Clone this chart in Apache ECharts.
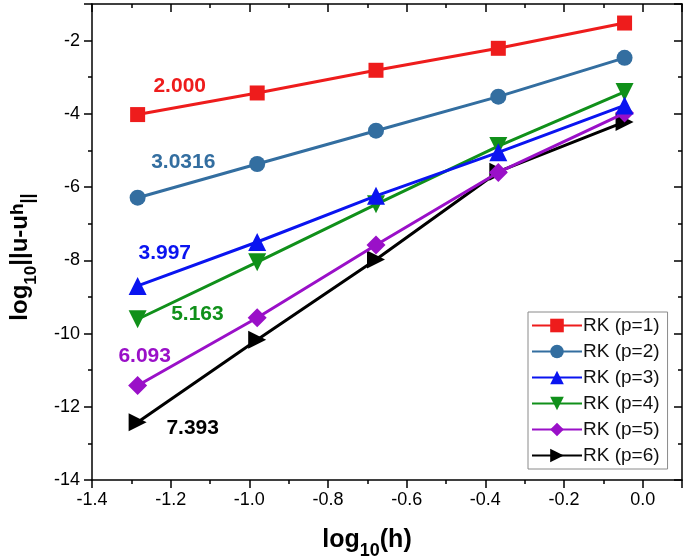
<!DOCTYPE html>
<html>
<head>
<meta charset="utf-8">
<script src="https://cdn.jsdelivr.net/npm/echarts@6/dist/echarts.min.js"></script>
<style>
html,body{margin:0;padding:0;background:#fff;}
#c{width:685px;height:559px;}
</style>
</head>
<body>
<div id="c"></div>
<script>
// ---- data ----
var logH = [-1.284, -0.980, -0.678, -0.367, -0.046];
var rk1 = [-4.02, -3.43, -2.81, -2.21, -1.52];
var rk2 = [-6.29, -5.37, -4.46, -3.53, -2.47];
var rk3 = [-8.70, -7.50, -6.24, -5.05, -3.77];
var rk4 = [-9.61, -8.05, -6.47, -4.88, -3.40];
var rk5 = [-11.42, -9.57, -7.58, -5.60, -3.98];
var rk6 = [-12.42, -10.17, -7.98, -5.58, -4.22];
var seriesNames = ['RK (p=1)', 'RK (p=2)', 'RK (p=3)', 'RK (p=4)', 'RK (p=5)', 'RK (p=6)'];
var slopeLabels = ['2.000', '3.0316', '3.997', '5.163', '6.093', '7.393'];
var labelX = [-1.177, -1.168, -1.215, -1.132, -1.266, -1.144];
var labelY = [-3.25, -5.33, -7.81, -9.47, -10.62, -12.58];
var xTicks = { min: -1.4, max: 0.1, interval: 0.2 };
var yTicks = { min: -14, max: -1, interval: 2 };

// ---- styles ----
var colors = ['#ee1c1c', '#336ea0', '#0a14f0', '#10901a', '#9a10c8', '#000000'];
var symbols = ['rect', 'circle', 'triangle', 'triangle', 'diamond', 'triangle'];
var rotations = [0, 0, 0, 180, 0, -90];
var sizes = [15, 16, 18, 18, 19, 18];
var allData = [rk1, rk2, rk3, rk4, rk5, rk6];

var chart = echarts.init(document.getElementById('c'));
var FONT = 'Liberation Sans, Arial, sans-serif';

var series = allData.map(function (vals, i) {
  return {
    name: seriesNames[i],
    type: 'line',
    data: vals.map(function (v, j) { return [logH[j], v]; }),
    symbol: symbols[i],
    symbolRotate: rotations[i],
    symbolSize: sizes[i],
    z: 10 - i,
    lineStyle: { color: colors[i], width: 3 },
    itemStyle: { color: colors[i] },
    emphasis: { disabled: true },
    markPoint: {
      symbol: 'circle',
      symbolSize: 0,
      silent: true,
      label: {
        show: true,
        position: 'inside',
        formatter: slopeLabels[i],
        color: colors[i],
        fontSize: 21,
        fontWeight: 'bold',
        fontFamily: FONT
      },
      data: [{ coord: [labelX[i], labelY[i]] }]
    }
  };
});

var option = {
  animation: false,
  backgroundColor: '#fff',
  textStyle: { fontFamily: FONT },
  grid: { left: 92, right: 3, top: 4, bottom: 79, containLabel: false, outerBoundsMode: 'none' },
  legend: {
    orient: 'vertical',
    left: 528,
    top: 312,
    data: seriesNames,
    itemWidth: 50,
    itemHeight: 17,
    itemGap: 7,
    padding: [4, 8, 4, 3],
    borderColor: '#8a8a8a',
    borderWidth: 1,
    borderRadius: 0,
    backgroundColor: '#fff',
    textStyle: { fontSize: 19, color: '#111', fontFamily: FONT, padding: [0, 0, 0, -4] }
  },
  xAxis: [{
    type: 'value',
    min: xTicks.min, max: xTicks.max, interval: xTicks.interval,
    name: '{a|log}{s|10}{a|(h)}',
    nameLocation: 'middle',
    nameGap: 48,
    nameTextStyle: {
      padding: [0, 40, 0, 0],
      rich: {
        a: { fontSize: 25, fontWeight: 'bold', color: '#000', fontFamily: FONT, lineHeight: 32, verticalAlign: 'top' },
        s: { fontSize: 18, fontWeight: 'bold', color: '#000', fontFamily: FONT, lineHeight: 32, verticalAlign: 'bottom' }
      }
    },
    axisLine: { onZero: false, lineStyle: { color: '#000', width: 1.5 } },
    axisTick: { inside: false, length: 8, lineStyle: { color: '#000', width: 1.5 } },
    minorTick: { show: true, splitNumber: 2, length: 4, lineStyle: { color: '#000', width: 1.5 } },
    axisLabel: {
      color: '#000', fontSize: 18, margin: 11, fontFamily: FONT,
      showMaxLabel: false,
      formatter: function (v) { return v.toFixed(1); }
    },
    splitLine: { show: false }
  }, {
    type: 'value', position: 'top',
    min: xTicks.min, max: xTicks.max, interval: xTicks.interval,
    axisLine: { onZero: false, lineStyle: { color: '#000', width: 1.5 } },
    axisTick: { inside: true, length: 8, lineStyle: { color: '#000', width: 1.5 } },
    minorTick: { show: true, splitNumber: 2, length: 4, lineStyle: { color: '#000', width: 1.5 } },
    axisLabel: { show: false },
    splitLine: { show: false }
  }],
  yAxis: [{
    type: 'value',
    min: yTicks.min, max: yTicks.max, interval: yTicks.interval,
    name: '{a|log}{s|10}{a|||u-u}{p|h}{q|||}',
    nameLocation: 'middle',
    nameRotate: 90,
    nameGap: 52,
    nameTextStyle: {
      padding: [0, 30, 0, 0],
      rich: {
        a: { fontSize: 24, fontWeight: 'bold', color: '#000', fontFamily: FONT, lineHeight: 32, verticalAlign: 'top' },
        s: { fontSize: 17, fontWeight: 'bold', color: '#000', fontFamily: FONT, lineHeight: 32, verticalAlign: 'bottom' },
        q: { fontSize: 18, fontWeight: 'bold', color: '#000', fontFamily: FONT, lineHeight: 32, verticalAlign: 'bottom', padding: [0, 0, 3, 0] },
        p: { fontSize: 19, fontWeight: 'bold', color: '#000', fontFamily: FONT, lineHeight: 32, verticalAlign: 'top', padding: [0, 0, 6, 0] }
      }
    },
    axisLine: { onZero: false, lineStyle: { color: '#000', width: 1.5 } },
    axisTick: { inside: false, length: 8, lineStyle: { color: '#000', width: 1.5 } },
    minorTick: { show: true, splitNumber: 2, length: 4, lineStyle: { color: '#000', width: 1.5 } },
    axisLabel: { color: '#000', fontSize: 18, margin: 12, fontFamily: FONT, showMaxLabel: false },
    splitLine: { show: false }
  }, {
    type: 'value', position: 'right',
    min: yTicks.min, max: yTicks.max, interval: yTicks.interval,
    axisLine: { onZero: false, lineStyle: { color: '#000', width: 1.5 } },
    axisTick: { inside: true, length: 8, lineStyle: { color: '#000', width: 1.5 } },
    minorTick: { show: true, splitNumber: 2, length: 4, lineStyle: { color: '#000', width: 1.5 } },
    axisLabel: { show: false },
    splitLine: { show: false }
  }],
  series: series
};
chart.setOption(option);
</script>
</body>
</html>
